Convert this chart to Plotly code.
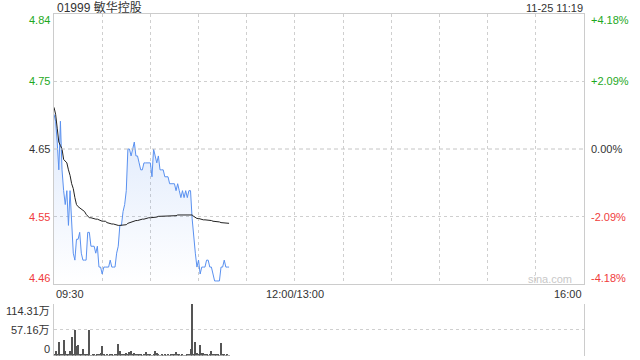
import plotly.graph_objects as go

# ---------------- data ----------------
TITLE = "01999 敏华控股"
STAMP = "11-25 11:19"
PREV_CLOSE = 4.65
PCT_LEVELS = [4.18, 2.09, 0.0, -2.09, -4.18]
PRICE_LABELS = ["4.84", "4.75", "4.65", "4.55", "4.46"]
PCT_LABELS = ["+4.18%", "+2.09%", "0.00%", "-2.09%", "-4.18%"]
VOL_TICKS = [114.31, 57.16, 0]
VOL_LABELS = ["114.31万", "57.16万", "0"]
TIME_LABELS = ["09:30", "12:00/13:00", "16:00"]
TIME_POS = [0, 150, 330]
SESSION_MINUTES = 330

price = [
    4.70, 4.69, 4.66, 4.62, 4.69, 4.62, 4.59, 4.57, 4.59, 4.54,
    4.59, 4.55, 4.50, 4.49, 4.52, 4.52, 4.53, 4.50, 4.49, 4.49,
    4.49, 4.53, 4.53, 4.51, 4.51, 4.51, 4.50, 4.51, 4.48, 4.48,
    4.47, 4.48, 4.48, 4.48, 4.48, 4.49, 4.48, 4.48, 4.48, 4.50,
    4.51, 4.54, 4.54, 4.56, 4.57, 4.59, 4.65, 4.65, 4.64, 4.65,
    4.66, 4.64, 4.64, 4.63, 4.62, 4.62, 4.63, 4.63, 4.63, 4.63,
    4.63, 4.61, 4.65, 4.64, 4.63, 4.64, 4.62, 4.62, 4.62, 4.61,
    4.61, 4.61, 4.60, 4.60, 4.60, 4.60, 4.59, 4.60, 4.59, 4.58,
    4.59, 4.58, 4.59, 4.58, 4.59, 4.59, 4.55, 4.52, 4.50, 4.48,
    4.49, 4.47, 4.48, 4.48, 4.48, 4.49, 4.49, 4.48, 4.48, 4.47,
    4.46, 4.46, 4.46, 4.46, 4.48, 4.48, 4.49, 4.48, 4.48, 4.48,
]

avg = [
    4.710, 4.700, 4.680, 4.660, 4.655, 4.650, 4.635, 4.632, 4.630, 4.620,
    4.612, 4.600, 4.593, 4.580, 4.570, 4.567, 4.565, 4.564, 4.562, 4.560,
    4.556, 4.553, 4.551, 4.551, 4.550, 4.550, 4.549, 4.549, 4.548, 4.546,
    4.546, 4.546, 4.546, 4.544, 4.543, 4.543, 4.542, 4.542, 4.541, 4.540,
    4.540, 4.540, 4.540, 4.540, 4.540, 4.541, 4.543, 4.544, 4.545, 4.545,
    4.546, 4.547, 4.547, 4.548, 4.548, 4.549, 4.549, 4.550, 4.550, 4.551,
    4.551, 4.551, 4.552, 4.552, 4.552, 4.553, 4.553, 4.553, 4.553, 4.554,
    4.554, 4.554, 4.554, 4.554, 4.554, 4.554, 4.554, 4.555, 4.555, 4.555,
    4.555, 4.555, 4.555, 4.555, 4.555, 4.555, 4.555, 4.553, 4.551, 4.550,
    4.550, 4.549, 4.549, 4.548, 4.548, 4.548, 4.547, 4.547, 4.547, 4.546,
    4.546, 4.545, 4.545, 4.545, 4.544, 4.544, 4.544, 4.543, 4.543, 4.543,
]

volume = [
    3, 10, 4, 30, 4, 2, 34, 11, 2, 3,
    11, 42, 3, 57, 21, 23, 2, 3, 14, 4,
    2, 2, 57, 1, 2, 2, 1, 2, 4, 6,
    21, 2, 1, 2, 1, 2, 2, 1, 3, 2,
    25, 11, 2, 4, 3, 5, 2, 7, 11, 4,
    5, 4, 3, 2, 2, 1, 3, 7, 3, 4,
    2, 1, 2, 11, 6, 2, 1, 2, 1, 2,
    1, 2, 1, 2, 2, 3, 7, 4, 2, 1,
    2, 1, 1, 2, 3, 14, 114.31, 3, 30, 6,
    4, 23, 6, 6, 3, 2, 1, 2, 11, 2,
    2, 4, 2, 1, 28, 3, 2, 1, 2, 1,
]

minutes = list(range(len(price)))

# ---------------- figure ----------------
W, H = 640, 360
FONT = "Arial, 'Liberation Sans', 'Noto Sans CJK SC', sans-serif"
GREEN = "#1ea81e"
RED = "#f03c3c"
DARK = "#333333"
GRID = "#cfcfcf"
BORDER = "#cccccc"

ymin = PREV_CLOSE * (1 - PCT_LEVELS[0] / 100)
ymax = PREV_CLOSE * (1 + PCT_LEVELS[0] / 100)

def px_x(px):
    return px / W

def px_y(py):
    return 1 - py / H

fig = go.Figure()

# baseline for gradient fill
fig.add_trace(go.Scatter(
    x=minutes, y=[ymin] * len(minutes), mode="lines",
    line=dict(width=0, color="rgba(0,0,0,0)"), hoverinfo="skip", showlegend=False,
    xaxis="x", yaxis="y"))
fig.add_trace(go.Scatter(
    x=minutes, y=price, mode="lines", fill="tonexty",
    fillgradient=dict(type="vertical",
                      colorscale=[[0, "rgba(90,145,240,0.0)"], [1, "rgba(90,145,240,0.20)"]]),
    line=dict(color="#5a91f0", width=1), showlegend=False, xaxis="x", yaxis="y"))
fig.add_trace(go.Scatter(
    x=minutes, y=avg, mode="lines",
    line=dict(color="#222222", width=1), showlegend=False, xaxis="x", yaxis="y"))
fig.add_trace(go.Bar(
    x=minutes, y=volume, width=0.62, marker=dict(color="#555555", line=dict(width=0)),
    showlegend=False, xaxis="x2", yaxis="y2"))

xdom = [px_x(54), px_x(584)]
pct_grid = [PREV_CLOSE * (1 + p / 100) for p in PCT_LEVELS[1:4] if p != 0]

fig.update_layout(
    width=W, height=H, margin=dict(l=0, r=0, t=0, b=0),
    paper_bgcolor="white", plot_bgcolor="white",
    font=dict(family=FONT, size=11, color=DARK),
    xaxis=dict(domain=xdom, range=[0, SESSION_MINUTES], tickvals=list(range(30, SESSION_MINUTES, 30)),
               showticklabels=False, ticks="", showgrid=True, gridcolor=GRID, griddash="dot",
               gridwidth=1, showline=True, mirror=True, linecolor=BORDER, linewidth=1,
               zeroline=False, anchor="y"),
    yaxis=dict(domain=[px_y(284), px_y(14)], range=[ymin, ymax], tickvals=pct_grid,
               showticklabels=False, ticks="", showgrid=True, gridcolor=GRID, griddash="dot",
               showline=True, mirror=True, linecolor=BORDER, linewidth=1, zeroline=False,
               anchor="x"),
    xaxis2=dict(domain=xdom, range=[0, SESSION_MINUTES], showticklabels=False, ticks="",
                showgrid=False, showline=False, zeroline=False, anchor="y2"),
    yaxis2=dict(domain=[px_y(355.5), px_y(303.5)], range=[-1.1, VOL_TICKS[0] + 1.1],
                tickvals=VOL_TICKS,
                showticklabels=False, ticks="", showgrid=True, gridcolor=GRID, griddash="dot",
                showline=True, mirror=True, linecolor=BORDER, linewidth=1, zeroline=False,
                anchor="x2"),
    bargap=0,
)

# 0% dashed line
fig.add_shape(type="line", xref="x", yref="y", x0=0, x1=SESSION_MINUTES,
              y0=PREV_CLOSE, y1=PREV_CLOSE,
              line=dict(color="#c4c4c4", width=1, dash="4px,3px"))

ann = []
ann.append(dict(text=TITLE, x=px_x(55), y=px_y(7.5), xref="paper", yref="paper",
                xanchor="left", yanchor="middle", showarrow=False,
                font=dict(size=12, color=DARK)))
ann.append(dict(text=STAMP, x=px_x(585), y=px_y(8), xref="paper", yref="paper",
                xanchor="right", yanchor="middle", showarrow=False,
                font=dict(size=11, color=DARK)))

n = len(PCT_LEVELS)
for i, (p, pl, tl) in enumerate(zip(PCT_LEVELS, PRICE_LABELS, PCT_LABELS)):
    col = GREEN if p > 0 else (RED if p < 0 else DARK)
    lvl = PREV_CLOSE * (1 + p / 100)
    shift = -6 if i == 0 else (6 if i == n - 1 else 0)
    ann.append(dict(text=pl, x=px_x(52), y=lvl, xref="paper", yref="y",
                    xanchor="right", yanchor="middle", yshift=shift, showarrow=False,
                    font=dict(size=11, color=col)))
    ann.append(dict(text=tl, x=px_x(589), y=lvl, xref="paper", yref="y",
                    xanchor="left", yanchor="middle", yshift=shift, showarrow=False,
                    font=dict(size=11, color=col)))

vshift = [-7, 0, 6]
for v, lab, s in zip(VOL_TICKS, VOL_LABELS, vshift):
    ann.append(dict(text=lab, x=px_x(52), y=v, xref="paper", yref="y2",
                    xanchor="right", yanchor="middle", yshift=s, showarrow=False,
                    font=dict(size=11, color=DARK)))

anchors = ["left", "center", "right"]
for t, pos, a in zip(TIME_LABELS, TIME_POS, anchors):
    ann.append(dict(text=t, x=pos, y=px_y(293.5), xref="x", yref="paper",
                    xanchor=a, yanchor="middle", showarrow=False,
                    font=dict(size=11, color=DARK)))

ann.append(dict(text="sina.com", x=px_x(574), y=px_y(279), xref="paper", yref="paper",
                xanchor="right", yanchor="middle", showarrow=False,
                font=dict(size=11, color="#c8c8c8")))

fig.update_layout(annotations=ann)

fig.write_html("out.html", config={"displayModeBar": False})
